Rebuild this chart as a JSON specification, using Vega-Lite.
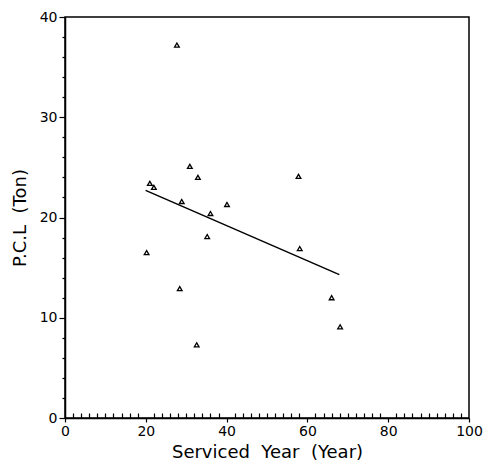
{
  "$schema": "https://vega.github.io/schema/vega-lite/v6.json",
  "width": 404,
  "height": 401,
  "autosize": "none",
  "padding": {"left": 65, "top": 17, "right": 20, "bottom": 46},
  "background": "white",
  "config": {
    "view": {"stroke": "black", "strokeWidth": 1.5},
    "font": "DejaVu Sans",
    "axis": {
      "domainColor": "black",
      "domainWidth": 1.5,
      "tickColor": "black",
      "tickWidth": 1.2,
      "grid": false,
      "labelColor": "black",
      "titleColor": "black",
      "labelFont": "DejaVu Sans",
      "titleFont": "DejaVu Sans",
      "labelFontSize": 14,
      "titleFontSize": 18,
      "titleFontWeight": "normal"
    }
  },
  "datasets": {
    "pts": [
      {"year": 27.7, "pcl": 37.2},
      {"year": 21.0, "pcl": 23.4},
      {"year": 22.0, "pcl": 23.0},
      {"year": 30.9, "pcl": 25.1},
      {"year": 32.9, "pcl": 24.0},
      {"year": 28.9, "pcl": 21.6},
      {"year": 40.1, "pcl": 21.3},
      {"year": 36.0, "pcl": 20.4},
      {"year": 35.2, "pcl": 18.1},
      {"year": 20.2, "pcl": 16.5},
      {"year": 28.4, "pcl": 12.9},
      {"year": 32.6, "pcl": 7.3},
      {"year": 57.8, "pcl": 24.1},
      {"year": 58.1, "pcl": 16.9},
      {"year": 66.0, "pcl": 12.0},
      {"year": 68.1, "pcl": 9.1}
    ],
    "fit": [
      {"year": 19.95, "pcl": 22.7},
      {"year": 67.9, "pcl": 14.3}
    ]
  },
  "layer": [
    {
      "data": {"name": "pts"},
      "mark": {"type": "point", "shape": "triangle-up", "filled": false, "stroke": "black", "strokeWidth": 1.3, "size": 22, "opacity": 1},
      "encoding": {
        "x": {"field": "year", "type": "quantitative",
              "scale": {"domain": [0, 100], "nice": false, "zero": true},
              "axis": {"title": "Serviced\u00a0 Year\u00a0 (Year)", "values": [0, 20, 40, 60, 80, 100], "tickSize": 4, "labelPadding": 2, "titlePadding": 5, "orient": "bottom", "labelFlush": false}},
        "y": {"field": "pcl", "type": "quantitative",
              "scale": {"domain": [0, 40], "nice": false},
              "axis": {"title": "P.C.L\u00a0 (Ton)", "values": [0, 10, 20, 30, 40], "tickSize": 6, "labelPadding": 2, "titlePadding": 10, "orient": "left", "labelFlush": false}}
      }
    },
    {
      "data": {"name": "fit"},
      "mark": {"type": "line", "color": "black", "strokeWidth": 1.5},
      "encoding": {
        "x": {"field": "year", "type": "quantitative",
              "axis": {"title": null, "labels": false, "domain": false, "values": [2,4,6,8,10,12,14,16,18,22,24,26,28,30,32,34,36,38,42,44,46,48,50,52,54,56,58,62,64,66,68,70,72,74,76,78,82,84,86,88,90,92,94,96,98], "tickSize": -5, "orient": "bottom"}},
        "y": {"field": "pcl", "type": "quantitative",
              "axis": {"title": null, "labels": false, "domain": false, "values": [2,4,6,8,12,14,16,18,22,24,26,28,32,34,36,38], "tickSize": 3, "orient": "left"}}
      }
    }
  ],
  "resolve": {"axis": {"x": "independent", "y": "independent"}}
}
